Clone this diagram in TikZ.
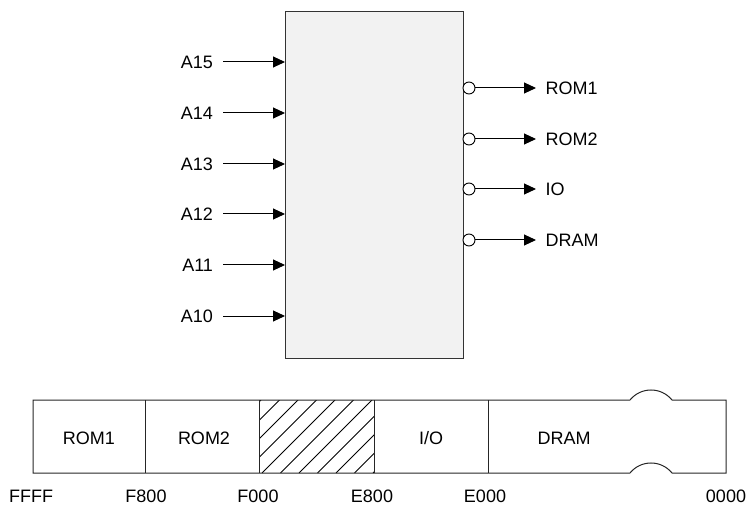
\documentclass[tikz,border=0pt]{standalone}
\usepackage{fontspec}
\setmainfont{Liberation Sans}
\usetikzlibrary{arrows.meta}
\definecolor{boxfill}{HTML}{F2F2F2}
\definecolor{boxline}{HTML}{333333}
\begin{document}
\begin{tikzpicture}[x=1bp,y=-1bp,
  lbl/.style={font=\fontsize{18bp}{21bp}\selectfont, text height=12.9bp, text depth=0pt, inner sep=0pt, outer sep=0pt},
  inlbl/.style={lbl, anchor=east, inner xsep=10bp},
  outlbl/.style={lbl, anchor=west, inner xsep=9.5bp},
  sig/.style={draw=black, line width=1bp, -{Triangle[length=12bp,width=11bp]}},
  bubble/.style={circle, draw=black, line width=0.9bp, fill=white, minimum size=12bp, inner sep=0pt, outer sep=0pt},
  decoder/.style={draw=boxline, line width=1bp, fill=boxfill, minimum width=178bp, minimum height=346bp, inner sep=0pt, outer sep=0pt},
  mem/.style={draw=black!85, line width=1bp},
  hatch/.style={draw=black, line width=0.8bp}
]
\useasboundingbox (0,0) rectangle (750,507);

% decoder box
\node[decoder] (dec) at (374,185) {};

% inputs
\foreach \n/\y in {15/62,14/113,13/164,12/214,11/265,10/316}{
  \node[inlbl] (a\n) at (223,\y) {A\n};
  \coordinate (d\n) at (dec.west |- a\n);
  \draw[sig] (a\n.east) -- (d\n);
}

% outputs
\foreach \i/\t/\y in {1/ROM1/88,2/ROM2/139,3/IO/189,4/DRAM/240}{
  \node[bubble] (b\i) at (469,\y) {};
  \node[outlbl] (o\i) at (536,\y) {\t};
  \draw[sig] (b\i.east) -- (o\i.west);
}

% memory map
\begin{scope}
  \clip (259,400) rectangle (374,473);
  \foreach \k in {-5,...,7}{
    \draw[hatch] ({262+\k*18.5},473) -- ++(73,-73);
  }
\end{scope}
\draw[mem] (33,400) -- (630,400) .. controls (640.83,386.66) and (661.17,386.66) .. (672,400)
  -- (726,400) -- (726,473) -- (672,473) .. controls (661.17,459.66) and (640.83,459.66) .. (630,473)
  -- (33,473) -- cycle;
\foreach \x in {145,259,374,488}{
  \draw[mem] (\x,400) -- (\x,473);
}

\node[lbl] (m1) at (89,438) {ROM1};
\node[lbl] (m2) at (204,438) {ROM2};
\node[lbl] (m3) at (431,438) {I/O};
\node[lbl] (m4) at (564,438) {DRAM};

\node[lbl] (ffff) at (31,496) {FFFF};
\node[lbl] (f800) at (146,496) {F800};
\node[lbl] (f000) at (258,496) {F000};
\node[lbl] (e800) at (372,496) {E800};
\node[lbl] (e000) at (485,496) {E000};
\node[lbl] (z000) at (726,496) {0000};
\end{tikzpicture}
\end{document}
